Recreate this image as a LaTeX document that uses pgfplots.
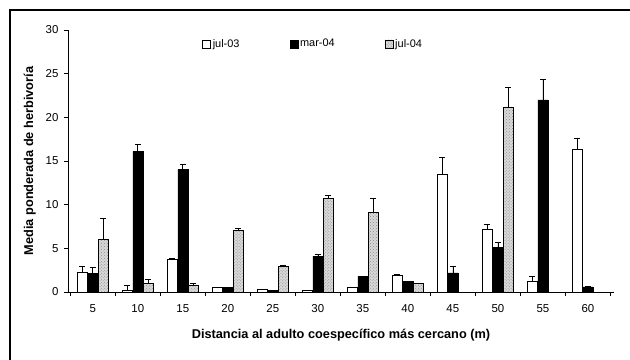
\documentclass[border=0pt]{standalone}
\usepackage{pgfplots}
\pgfplotsset{compat=1.18}
\usepackage{fontspec}
\setmainfont{Liberation Sans}
\usetikzlibrary{patterns}
\begin{document}
\begin{tikzpicture}
\useasboundingbox (-68bp,-68bp) rectangle (562bp,292bp);
\draw[line width=1.6bp] (-58bp,-70bp) -- (-58bp,282bp) -- (565bp,282bp);
\begin{axis}[
  at={(0,0)}, anchor=south west,
  scale only axis, width=546bp, height=262bp,
  xmin=-0.55, xmax=11.58, ymin=0, ymax=30,
  axis lines*=left,
  axis line style={black, line width=0.5pt},
  ybar, bar width=10bp,
  xtick={0,...,11},
  xticklabels={5,10,15,20,25,30,35,40,45,50,55,60},
  major x tick style={draw=none},
  minor xtick={-0.5,0.5,...,11.5},
  ytick={0,5,...,30},
  tick align=outside,
  major tick length=4bp, minor tick length=4bp,
  tick style={black, line width=0.5pt},
  ticklabel style={font=\fontsize{11.5}{12}\selectfont},
  /pgf/number format/assume math mode=true,
  xticklabel style={yshift=-5bp},
  yticklabel style={xshift=-2bp},
  ylabel={\bfseries Media ponderada de herbivoría},
  xlabel={\bfseries Distancia al adulto coespecífico más cercano (m)},
  label style={font=\fontsize{12.8}{14}\selectfont},
  ylabel style={yshift=3bp},
  xlabel style={yshift=-10bp},
  legend columns=3,
  legend style={draw=none, fill=none, at={(0.449,0.947)}, anchor=center,
    font=\fontsize{11}{12}\selectfont, /tikz/every even column/.append style={column sep=48bp}},
  legend image code/.code={\draw[#1, draw=black, line width=0.5pt] (0bp,-4bp) rectangle (8bp,4bp);},
  error bars/y dir=plus, error bars/y explicit,
  error bars/error bar style={black, line width=0.6pt},
  error bars/error mark options={rotate=90, mark size=3bp, black, line width=0.6pt},
]
\addplot[draw=black, fill=white, line width=0.5pt, bar shift=-10.5bp] coordinates {
 (0,2.3) +- (0,0.7)
 (1,0.2) +- (0,0.6)
 (2,3.8) +- (0,0.1)
 (3,0.5) +- (0,0)
 (4,0.35) +- (0,0)
 (5,0.25) +- (0,0)
 (6,0.5) +- (0,0)
 (7,1.9) +- (0,0.1)
 (8,13.5) +- (0,1.9)
 (9,7.2) +- (0,0.6)
 (10,1.2) +- (0,0.6)
 (11,16.4) +- (0,1.2)
};
\addplot[draw=black, fill=black, line width=0.5pt, bar shift=0bp] coordinates {
 (0,2.1) +- (0,0.7)
 (1,16.1) +- (0,0.8)
 (2,14.0) +- (0,0.6)
 (3,0.5) +- (0,0)
 (4,0.2) +- (0,0)
 (5,4.1) +- (0,0.2)
 (6,1.8) +- (0,0)
 (7,1.2) +- (0,0)
 (8,2.2) +- (0,0.8)
 (9,5.1) +- (0,0.6)
 (10,22.0) +- (0,2.4)
 (11,0.6) +- (0,0)
};
\addplot[draw=black, fill=gray!30, line width=0.5pt, bar shift=10.5bp,
  postaction={pattern=crosshatch dots, pattern color=gray!90}] coordinates {
 (0,6.0) +- (0,2.4)
 (1,0.95) +- (0,0.5)
 (2,0.75) +- (0,0.2)
 (3,7.05) +- (0,0.3)
 (4,2.9) +- (0,0.2)
 (5,10.7) +- (0,0.35)
 (6,9.1) +- (0,1.6)
 (7,1.0) +- (0,0)
 (8,0) +- (0,0)
 (9,21.1) +- (0,2.3)
 (10,0) +- (0,0)
 (11,0) +- (0,0)
};
\legend{jul-03, mar-04, jul-04}
\end{axis}
\end{tikzpicture}
\end{document}
